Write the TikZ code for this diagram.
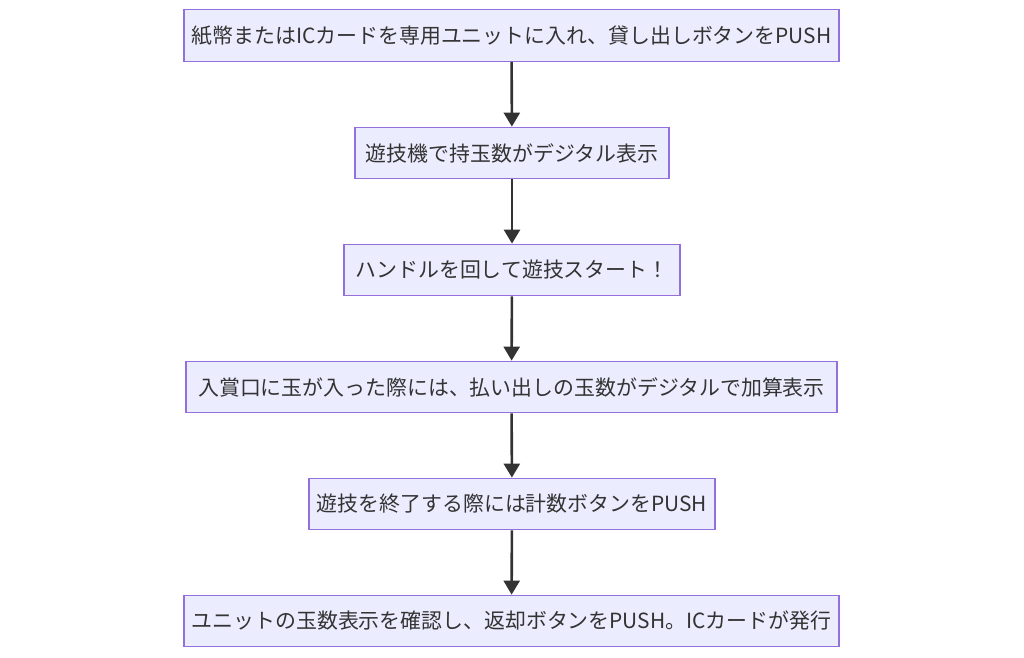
\documentclass[tikz,border=0pt]{standalone}
\usepackage{fontspec}
\setmainfont{Noto Sans CJK JP}
\usetikzlibrary{arrows.meta}
\definecolor{boxfill}{HTML}{ECECFF}
\definecolor{boxdraw}{HTML}{9370DB}
\definecolor{txt}{HTML}{333333}
\tikzset{
  stepbox/.style={draw=boxdraw, fill=boxfill, line width=1.3pt, inner sep=0pt,
    minimum height=51.5pt, text=txt, font=\fontsize{20.9pt}{24pt}\selectfont},
  flow/.style={draw=txt, line width=2.6pt, -{Triangle[length=14pt,width=16pt]}}
}
\begin{document}
\begin{tikzpicture}[x=1pt,y=-1pt]
\useasboundingbox (0,0) rectangle (1024,657);
\node[stepbox, minimum width=655pt] (n1) at (511.5,35.5) {紙幣またはICカードを専用ユニットに入れ、貸し出しボタンをPUSH};
\node[stepbox, minimum width=314pt] (n2) at (512,153) {遊技機で持玉数がデジタル表示};
\node[stepbox, minimum width=336pt] (n3) at (512,270) {ハンドルを回して遊技スタート！};
\node[stepbox, minimum width=651pt] (n4) at (511.5,387) {入賞口に玉が入った際には、払い出しの玉数がデジタルで加算表示};
\node[stepbox, minimum width=406pt] (n5) at (512,504) {遊技を終了する際には計数ボタンをPUSH};
\node[stepbox, minimum width=655pt] (n6) at (511.5,621) {ユニットの玉数表示を確認し、返却ボタンをPUSH。ICカードが発行};
\draw[flow] (n1) -- (n2);
\draw[flow] (n2) -- (n3);
\draw[flow] (n3) -- (n4);
\draw[flow] (n4) -- (n5);
\draw[flow] (n5) -- (n6);
\end{tikzpicture}
\end{document}
